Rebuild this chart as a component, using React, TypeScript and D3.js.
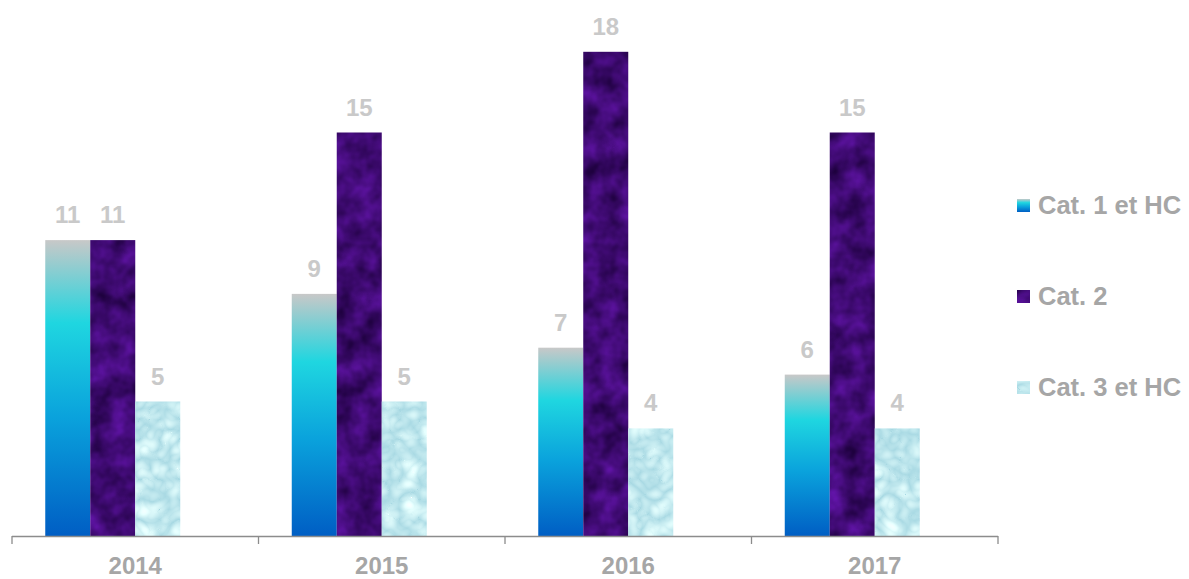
import React from 'react';
import * as d3 from 'd3';

// chart data
const years = ['2014', '2015', '2016', '2017'];
const seriesNames = ['Cat. 1 et HC', 'Cat. 2', 'Cat. 3 et HC'];
const cat1 = [11, 9, 7, 6];
const cat2 = [11, 15, 18, 15];
const cat3 = [5, 5, 4, 4];

const fills = ['url(#gradCat1)', '#4a1285', '#b4e6ee'];
const filters = [null, 'url(#texPurple)', 'url(#texWater)'];

function App() {
    const W = 1189,
        H = 579;
    const plot = { left: 12, right: 998, top: 20, bottom: 536 };

    const x = d3.scaleBand()
        .domain(years)
        .range([plot.left, plot.right])
        .paddingInner(0)
        .paddingOuter(0);

    // Excel-like cluster with an empty 4th slot
    const inner = d3.scaleBand()
        .domain(['0', '1', '2', '3'])
        .range([0, x.bandwidth()])
        .paddingOuter(0.739)
        .paddingInner(0);

    const y = d3.scaleLinear().domain([0, 19.2]).range([plot.bottom, plot.bottom - 19.2 * 26.9]);

    const allSeries = [cat1, cat2, cat3];
    const font = '"Liberation Sans", Arial, sans-serif';

    return (
        <div>
            <svg width={W} height={H} style={{ display: 'block', position: 'absolute', left: 0, top: 0 }}>
                <defs>
                    <linearGradient id="gradCat1" gradientUnits="objectBoundingBox" x1="0" y1="0" x2="0" y2="1">
                        <stop offset="0%" stopColor="#c8c8c8" />
                        <stop offset="28%" stopColor="#1fd6e0" />
                        <stop offset="60%" stopColor="#0aa2dc" />
                        <stop offset="100%" stopColor="#005ec4" />
                    </linearGradient>
                    <filter id="texPurple" x="0" y="0" width="1" height="1" colorInterpolationFilters="sRGB">
                        <feTurbulence type="fractalNoise" baseFrequency="0.045" numOctaves="3" seed="4" result="n" />
                        <feColorMatrix in="n" type="matrix"
                            values="0.35 0 0 0 0.07  0.1 0 0 0 -0.01  0.55 0 0 0 0.17  0 0 0 0 1" result="c" />
                        <feComposite in="c" in2="SourceGraphic" operator="in" />
                    </filter>
                    <filter id="texWater" x="0" y="0" width="1" height="1" colorInterpolationFilters="sRGB">
                        <feTurbulence type="turbulence" baseFrequency="0.05" numOctaves="2" seed="7" result="n" />
                        <feColorMatrix in="n" type="matrix"
                            values="0.4 0 0 0 0.66  0.25 0 0 0 0.85  0.18 0 0 0 0.89  0 0 0 0 1" result="c" />
                        <feComposite in="c" in2="SourceGraphic" operator="in" />
                    </filter>
                </defs>

                {/* bars */}
                {allSeries.map((vals, s) => (
                    <g key={s}>
                        {vals.map((v, i) => {
                            const bx = x(years[i]) + inner(String(s));
                            return (
                                <rect
                                    key={i}
                                    x={bx}
                                    y={y(v)}
                                    width={inner.bandwidth()}
                                    height={plot.bottom - y(v)}
                                    fill={fills[s]}
                                    filter={filters[s] || undefined}
                                />
                            );
                        })}
                    </g>
                ))}

                {/* data labels */}
                {allSeries.map((vals, s) =>
                    vals.map((v, i) => (
                        <text
                            key={`l${s}-${i}`}
                            x={x(years[i]) + inner(String(s)) + inner.bandwidth() / 2}
                            y={y(v) - 17}
                            textAnchor="middle"
                            fontFamily={font}
                            fontWeight="bold"
                            fontSize={24}
                            fill="#c9c9c9"
                        >
                            {v}
                        </text>
                    ))
                )}

                {/* x axis */}
                <line x1={plot.left} x2={plot.right} y1={plot.bottom + 0.5} y2={plot.bottom + 0.5} stroke="#8c8c8c" strokeWidth={1.3} />
                {[...years.map(d => x(d)), plot.right].map((tx, i) => (
                    <line key={i} x1={tx} x2={tx} y1={plot.bottom} y2={plot.bottom + 8} stroke="#8c8c8c" strokeWidth={1.3} />
                ))}
                {years.map(d => (
                    <text
                        key={d}
                        x={x(d) + x.bandwidth() / 2}
                        y={574}
                        textAnchor="middle"
                        fontFamily={font}
                        fontWeight="bold"
                        fontSize={24}
                        fill="#a6a6a6"
                    >
                        {d}
                    </text>
                ))}

                {/* legend */}
                {seriesNames.map((name, s) => (
                    <g key={name} transform={`translate(1017, ${205 + s * 91})`}>
                        <rect x={0} y={-6} width={13} height={13} fill={fills[s]} filter={filters[s] || undefined} />
                        <text x={21} y={9} fontFamily={font} fontWeight="bold" fontSize={25.5} fill="#a6a6a6">
                            {name}
                        </text>
                    </g>
                ))}
            </svg>
        </div>
    );
}

export default App;
